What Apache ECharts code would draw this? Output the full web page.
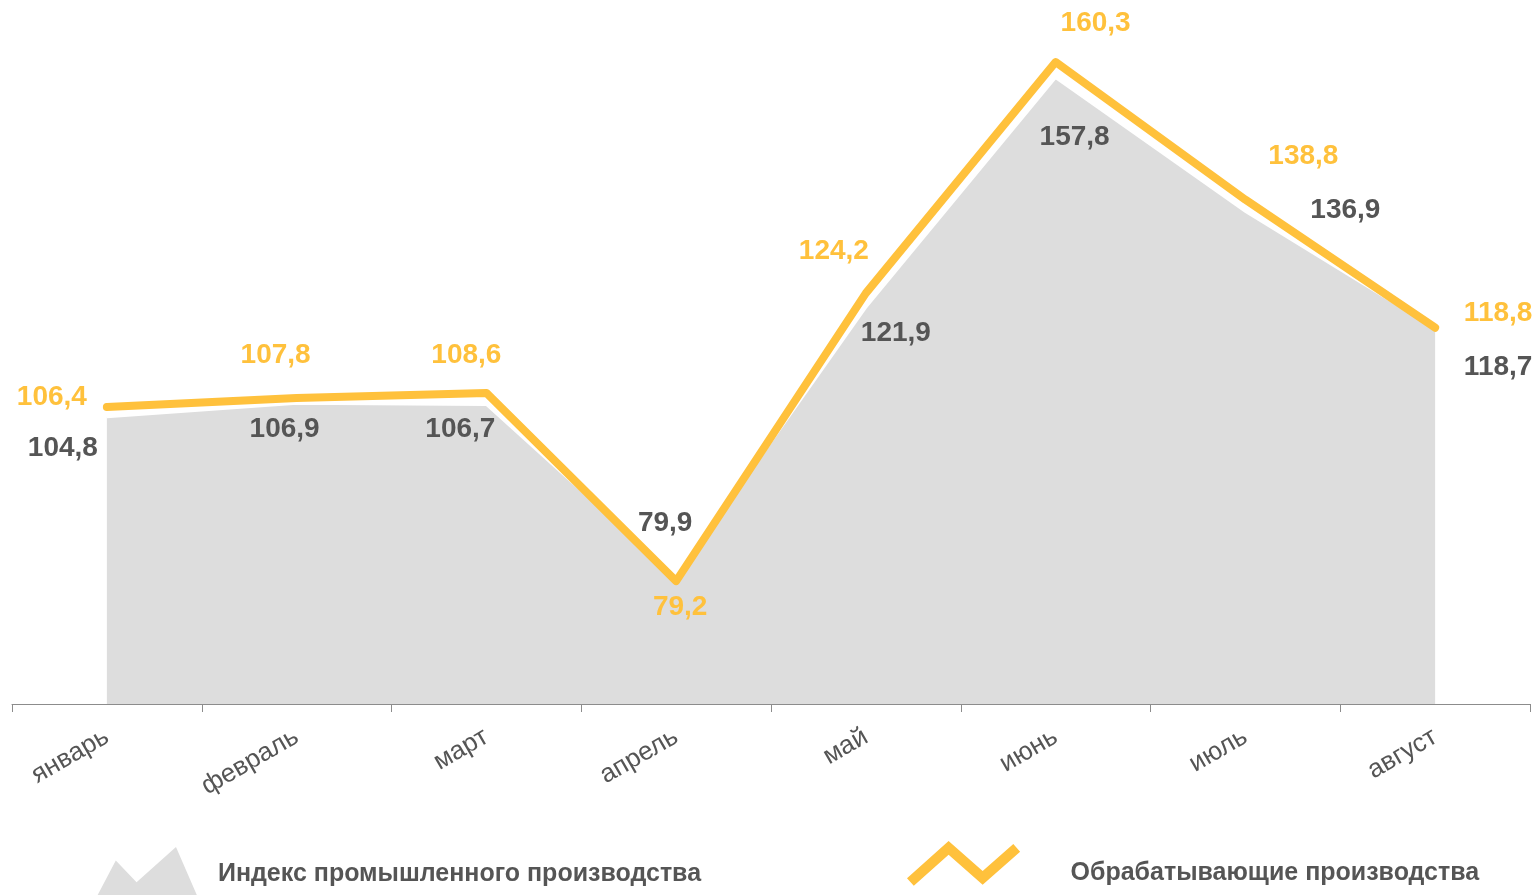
<!DOCTYPE html>
<html>
<head>
<meta charset="utf-8">
<script src="https://cdn.jsdelivr.net/npm/echarts@6/dist/echarts.min.js"></script>
<style>
html,body{margin:0;padding:0;background:#fff;}
#chart{width:1540px;height:895px;}
</style>
</head>
<body>
<div id="chart"></div>
<script>
const categories = ['январь','февраль','март','апрель','май','июнь','июль','август'];
const industryIndex = [104.8, 106.9, 106.7, 79.9, 121.9, 157.8, 136.9, 118.7];
const manufacturing = [106.4, 107.8, 108.6, 79.2, 124.2, 160.3, 138.8, 118.8];
const seriesNames = ['Индекс промышленного производства', 'Обрабатывающие производства'];

// label placement offsets (styling only)
const grayLabelOffsets = [[-44,31],[-12,25],[-26,24],[-11,-53],[30,25],[19,59],[100,-2],[63,39]];
const yellowLabelOffsets = [[-55,-10],[-21,-43],[-20,-38],[4,26],[-32,-42],[40,-39],[58,-43],[63,-14]];

const YELLOW = '#FFC13C';
const GRAY_FILL = '#DDDDDD';
const TEXT_GRAY = '#555555';

const fmt = v => v.toFixed(1).replace('.', ',');

function withLabels(values, offsets) {
  return values.map((v, i) => ({ value: v, label: { offset: offsets[i] } }));
}

const chart = echarts.init(document.getElementById('chart'), null, {renderer: 'canvas'});
chart.setOption({
  animation: false,
  backgroundColor: '#ffffff',
  grid: { left: 12, right: 10, top: 0, bottom: 191, containLabel: false },
  xAxis: {
    type: 'category',
    data: categories,
    boundaryGap: true,
    axisLine: { show: true, lineStyle: { color: '#8c8c8c', width: 1 } },
    axisTick: { show: true, length: 8, lineStyle: { color: '#8c8c8c' } },
    axisLabel: {
      interval: 0, rotate: 30, margin: 31,
      fontFamily: 'Liberation Sans, Arial, sans-serif', fontSize: 26, color: TEXT_GRAY
    },
    splitLine: { show: false }
  },
  yAxis: { type: 'value', min: 60, max: 170, show: false, splitLine: { show: false } },
  legend: [
    {
      data: [seriesNames[0]], left: 89, top: 842, itemWidth: 110, itemHeight: 55,
      selectedMode: false,
      icon: 'path://M0 53 L21 13 L41 34 L79 0 L102 53 Z',
      itemStyle: { color: GRAY_FILL },
      textStyle: { fontFamily: 'Liberation Sans, Arial, sans-serif', fontSize: 25, fontWeight: 'bold', color: TEXT_GRAY, padding: [2, 0, 0, 11] }
    },
    {
      data: [seriesNames[1]], left: 902, top: 836, itemWidth: 124, itemHeight: 64,
      selectedMode: false,
      icon: 'path://M1.7 36.3 L42 0.3 L75 29.3 L104.7 3.25 L111.3 10.75 L75 42.7 L42 13.7 L8.3 43.7 Z M60 62.3 L60.01 62.3 L60 62.31 Z',
      itemStyle: { color: YELLOW },
      textStyle: { fontFamily: 'Liberation Sans, Arial, sans-serif', fontSize: 25, fontWeight: 'bold', color: TEXT_GRAY, padding: [0, 0, 0, 40] }
    }
  ],
  series: [
    {
      name: seriesNames[0],
      type: 'line',
      data: withLabels(industryIndex, grayLabelOffsets),
      symbol: 'circle', symbolSize: 0, showSymbol: true,
      itemStyle: { color: GRAY_FILL },
      lineStyle: { color: '#ffffff', width: 2 },
      areaStyle: { color: GRAY_FILL, opacity: 1 },
      z: 1,
      label: {
        show: true, position: 'inside',
        fontFamily: 'Liberation Sans, Arial, sans-serif', fontSize: 28, fontWeight: 'bold',
        color: TEXT_GRAY,
        formatter: p => fmt(p.value)
      }
    },
    {
      name: seriesNames[1],
      type: 'line',
      data: withLabels(manufacturing, yellowLabelOffsets),
      symbol: 'circle', symbolSize: 0, showSymbol: true,
      itemStyle: { color: YELLOW },
      lineStyle: { color: YELLOW, width: 8, cap: 'round', join: 'round' },
      z: 3,
      label: {
        show: true, position: 'inside',
        fontFamily: 'Liberation Sans, Arial, sans-serif', fontSize: 28, fontWeight: 'bold',
        color: YELLOW,
        formatter: p => fmt(p.value)
      }
    }
  ]
});
</script>
</body>
</html>
